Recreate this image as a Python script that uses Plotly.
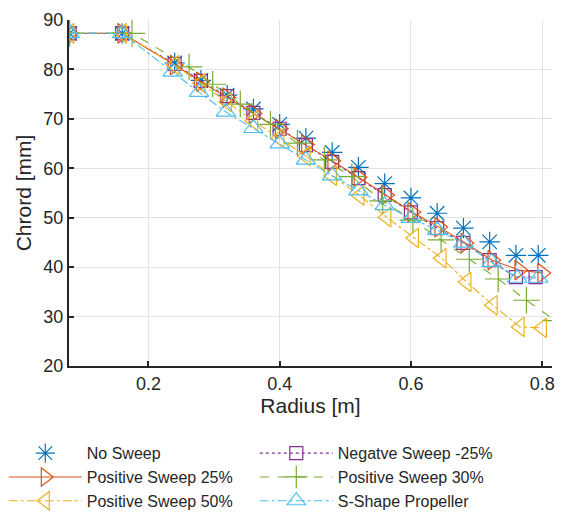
import plotly.graph_objects as go

# ---- data ----
x_base = [0.08, 0.16, 0.24, 0.28, 0.32, 0.36, 0.40, 0.44, 0.48, 0.52, 0.56, 0.60, 0.64, 0.68, 0.72, 0.76, 0.794]
y_no_sweep = [87.3, 87.3, 81.3, 77.8, 74.8, 72.0, 68.9, 66.1, 63.2, 60.2, 56.9, 54.0, 50.9, 47.9, 45.1, 42.4, 42.4]

x_neg25 = [0.08, 0.16, 0.24, 0.28, 0.32, 0.36, 0.40, 0.44, 0.48, 0.52, 0.56, 0.60, 0.64, 0.68, 0.72, 0.76, 0.79]
y_neg25 = [87.3, 87.3, 81.1, 77.7, 74.6, 71.2, 68.0, 64.7, 61.3, 58.0, 54.6, 51.1, 47.9, 44.9, 41.4, 38.0, 38.0]

x_pos25 = [0.08, 0.16, 0.24, 0.28, 0.32, 0.36, 0.40, 0.44, 0.48, 0.52, 0.562, 0.602, 0.643, 0.683, 0.724, 0.765, 0.80]
y_pos25 = [87.3, 87.3, 80.9, 77.5, 74.3, 71.1, 68.0, 64.8, 61.5, 58.2, 54.6, 51.1, 48.1, 44.9, 41.4, 39.4, 38.8]

x_pos30 = [0.08, 0.175, 0.262, 0.298, 0.34, 0.386, 0.427, 0.468, 0.51, 0.557, 0.603, 0.646, 0.689, 0.733, 0.776, 0.82]
y_pos30 = [87.3, 87.3, 80.5, 77.0, 73.0, 68.9, 65.1, 61.7, 58.3, 53.4, 49.5, 45.5, 41.6, 37.6, 33.3, 29.2]

x_pos50 = [0.08, 0.16, 0.24, 0.28, 0.32, 0.36, 0.40, 0.44, 0.48, 0.522, 0.563, 0.605, 0.647, 0.685, 0.725, 0.766, 0.80]
y_pos50 = [87.3, 87.3, 80.9, 77.2, 73.4, 69.6, 66.1, 62.5, 58.5, 54.5, 50.1, 45.9, 41.8, 37.0, 32.3, 27.9, 27.7]

x_sshape = [0.08, 0.16, 0.237, 0.277, 0.318, 0.36, 0.40, 0.44, 0.48, 0.52, 0.56, 0.60, 0.64, 0.68, 0.723, 0.762, 0.794]
y_sshape = [87.3, 87.3, 79.5, 75.4, 71.4, 68.1, 65.0, 61.7, 58.5, 55.5, 52.5, 49.9, 47.5, 44.9, 41.0, 37.8, 37.8]

x_ticks = [0.2, 0.4, 0.6, 0.8]
y_ticks = [20, 30, 40, 50, 60, 70, 80, 90]

FONT = "Liberation Sans, Arial, Helvetica, sans-serif"
TXT = "#262626"

fig = go.Figure()

def add(name, x, y, color, symbol, size, dash=None, lines=True):
    fig.add_trace(go.Scatter(
        x=x, y=y, name=name,
        mode="lines+markers" if lines else "markers",
        line=dict(color=color, width=1.1, dash=dash) if lines else None,
        marker=dict(symbol=symbol, size=size, color=color,
                    line=dict(color=color, width=1.2)),
    ))

# order arranged so a row-filled legend matches the column layout of the reference
add("No Sweep", x_base, y_no_sweep, "#0072BD", "asterisk-open", 17, lines=False)
add("Negatve Sweep -25%", x_neg25, y_neg25, "#7E2F8E", "square-open", 13, dash="dot")
add("Positive Sweep 25%", x_pos25, y_pos25, "#D95319", "triangle-right-open", 17, dash="solid")
add("Positive Sweep 30%", x_pos30, y_pos30, "#77AC30", "cross-thin-open", 19, dash="dash")
add("Positive Sweep 50%", x_pos50, y_pos50, "#EDB120", "triangle-left-open", 17, dash="dashdot")
add("S-Shape Propeller", x_sshape, y_sshape, "#4DBEEE", "triangle-up-open", 17, dash="dashdot")

fig.update_layout(
    width=565, height=512,
    margin=dict(l=69, r=13, t=20, b=146, autoexpand=False),
    paper_bgcolor="white", plot_bgcolor="white",
    font=dict(family=FONT, size=17, color=TXT),
    showlegend=True,
    legend=dict(
        orientation="h",
        x=-0.135, xanchor="left",
        y=-0.203, yanchor="top",
        entrywidth=163, entrywidthmode="pixels",
        itemwidth=73,
        font=dict(family=FONT, size=16, color=TXT),
        bgcolor="rgba(0,0,0,0)",
        tracegroupgap=0,
        traceorder="normal",
    ),
    xaxis=dict(
        range=[0.079, 0.815], tickvals=x_ticks, ticktext=["0.2", "0.4", "0.6", "0.8"],
        showgrid=True, gridcolor="#e3e3e3", gridwidth=1,
        showline=True, linecolor="#262626", linewidth=2, mirror=False,
        ticks="inside", ticklen=5, tickwidth=1.5, tickcolor="#262626",
        zeroline=False,
        title=dict(text="Radius [m]", font=dict(size=21), standoff=5),
        tickfont=dict(size=18),
    ),
    yaxis=dict(
        range=[20, 90], tickvals=y_ticks,
        showgrid=True, gridcolor="#e3e3e3", gridwidth=1,
        showline=True, linecolor="#262626", linewidth=2, mirror=False,
        ticks="inside", ticklen=5, tickwidth=1.5, tickcolor="#262626",
        zeroline=False,
        title=dict(text="Chrord [mm]", font=dict(size=21), standoff=6),
        tickfont=dict(size=18),
    ),
)

fig.write_html("out.html")
